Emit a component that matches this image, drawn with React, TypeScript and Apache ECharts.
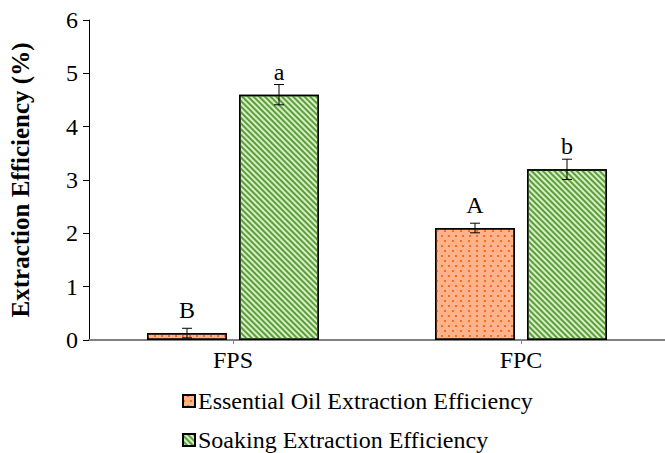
import React, { useEffect, useRef } from "react";
import * as echarts from "echarts";

const categories = ["FPS", "FPC"];
const oilValues = [0.13, 2.1];
const oilErrors = [0.09, 0.09];
const oilLetters = ["B", "A"];
const soakValues = [4.6, 3.2];
const soakErrors = [0.19, 0.19];
const soakLetters = ["a", "b"];
const seriesNames = ["Essential Oil Extraction Efficiency", "Soaking Extraction Efficiency"];

const FONT = "'Liberation Serif', 'Times New Roman', serif";
const BAR_W = 80;
const BAR_GAP_PX = 12;

export default function App() {
  const ref = useRef<HTMLDivElement>(null);
  useEffect(() => {
    if (!ref.current) return;
    const chart = echarts.init(ref.current, null, { renderer: "svg" });
    const offset = (BAR_W + BAR_GAP_PX) / 2;
    const errData = (vals: number[], errs: number[], side: number) =>
      vals.map((v, i) => [i, v, errs[i], side]);
    const renderErr = (params: any, api: any) => {
      const x = api.value(0);
      const v = api.value(1);
      const e = api.value(2);
      const side = api.value(3);
      const top = api.coord([x, v + e]);
      const bot = api.coord([x, v - e]);
      const cx = top[0] + side * offset;
      const cap = 5;
      const st = { stroke: "#000", lineWidth: 1 };
      return {
        type: "group",
        children: [
          { type: "line", shape: { x1: cx, y1: top[1], x2: cx, y2: bot[1] }, style: st },
          { type: "line", shape: { x1: cx - cap, y1: top[1], x2: cx + cap, y2: top[1] }, style: st },
          { type: "line", shape: { x1: cx - cap, y1: bot[1], x2: cx + cap, y2: bot[1] }, style: st },
        ],
      };
    };
    const legendBase = {
      orient: "vertical",
      left: 177,
      itemWidth: 12,
      itemHeight: 12,
      itemGap: 5,
      icon: "rect",
      textStyle: { fontFamily: FONT, fontSize: 24, color: "#000", padding: [0, 0, 0, -2] },
    };
    chart.setOption({
      animation: false,
      backgroundColor: "#fff",
      textStyle: { fontFamily: FONT },
      grid: { left: 86, top: 20, bottom: 113, width: 582 },
      legend: [
        { ...legendBase, top: 384, data: [seriesNames[0]] },
        { ...legendBase, top: 423, data: [seriesNames[1]] },
      ],
      xAxis: {
        type: "category",
        data: categories,
        axisLine: { show: true, lineStyle: { color: "#808080", width: 2 } },
        axisTick: { show: true, alignWithLabel: true, length: 4, lineStyle: { color: "#808080" } },
        axisLabel: { fontFamily: FONT, fontSize: 24, color: "#000", margin: 8 },
      },
      yAxis: {
        type: "value",
        min: 0,
        max: 6,
        interval: 1,
        name: "Extraction Efficiency (%)",
        nameLocation: "middle",
        nameGap: 56,
        nameTextStyle: { fontFamily: FONT, fontSize: 25, fontWeight: "bold", color: "#000" },
        axisLine: { show: true, lineStyle: { color: "#000", width: 1 } },
        axisTick: { show: true, length: 6, lineStyle: { color: "#000" } },
        splitLine: { show: false },
        axisLabel: { fontFamily: FONT, fontSize: 24, color: "#000", margin: 11 },
      },
      series: [
        {
          name: seriesNames[0],
          type: "bar",
          data: oilValues,
          barWidth: BAR_W,
          barGap: (BAR_GAP_PX / BAR_W) * 100 + "%",
          itemStyle: {
            color: "#FFB38C",
            borderColor: "#000",
            borderWidth: 1.5,
            decal: {
              symbol: "rect",
              symbolSize: 1,
              color: "#FF6A1A",
              dashArrayX: [[2, 5], [0, 3.5, 2, 1.5]],
              dashArrayY: [2, 3],
              rotation: 0,
            },
          },
          label: {
            show: true,
            position: "top",
            distance: 11,
            formatter: (p: any) => oilLetters[p.dataIndex],
            fontFamily: FONT,
            fontSize: 24,
            color: "#000",
          },
        },
        {
          name: seriesNames[1],
          type: "bar",
          data: soakValues,
          barWidth: BAR_W,
          itemStyle: {
            color: "#D6EFC4",
            borderColor: "#000",
            borderWidth: 1.5,
            decal: {
              symbol: "rect",
              symbolSize: 1,
              color: "#5C9E3C",
              dashArrayX: [1, 0],
              dashArrayY: [1.5, 2],
              rotation: Math.PI / 4,
            },
          },
          label: {
            show: true,
            position: "top",
            distance: 11,
            formatter: (p: any) => soakLetters[p.dataIndex],
            fontFamily: FONT,
            fontSize: 24,
            color: "#000",
          },
        },
        {
          type: "custom",
          renderItem: renderErr,
          data: errData(oilValues, oilErrors, -1),
          encode: { x: 0, y: 1 },
          z: 10,
          silent: true,
        },
        {
          type: "custom",
          renderItem: renderErr,
          data: errData(soakValues, soakErrors, 1),
          encode: { x: 0, y: 1 },
          z: 10,
          silent: true,
        },
      ],
    });
    return () => chart.dispose();
  }, []);
  return <div ref={ref} style={{ width: 665, height: 453, position: "absolute", left: 0, top: 0 }} />;
}
